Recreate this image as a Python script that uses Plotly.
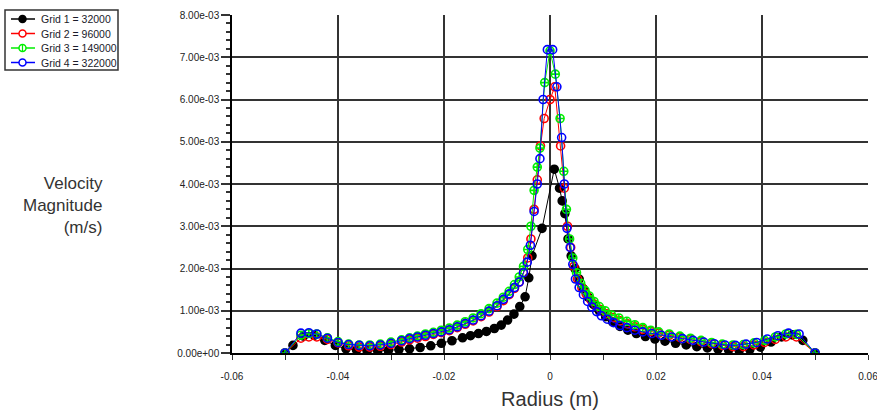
import plotly.graph_objects as go

# ---- data (velocity values in mm/s, converted to m/s below) ----
names = ["Grid 1 = 32000", "Grid 2 = 96000", "Grid 3 = 149000", "Grid 4 = 322000"]

r1 = [-0.0500, -0.0485, -0.0465, -0.0445, -0.0425, -0.0405, -0.0385, -0.0365, -0.0345, -0.0325,
      -0.0305, -0.0285, -0.0265, -0.0245, -0.0225, -0.0205, -0.0185, -0.0165, -0.0150, -0.0135,
      -0.0120, -0.0105, -0.0092, -0.0080, -0.0068, -0.0057, -0.0047, -0.0040, -0.0034, -0.0015,
      0.0008, 0.0018, 0.0023, 0.0028, 0.0034, 0.0040, 0.0047, 0.0055, 0.0063, 0.0072,
      0.0082, 0.0093, 0.0105, 0.0118, 0.0132, 0.0147, 0.0163, 0.0180, 0.0198, 0.0217,
      0.0237, 0.0257, 0.0277, 0.0297, 0.0317, 0.0337, 0.0357, 0.0377, 0.0397, 0.0417,
      0.0437, 0.0457, 0.0477, 0.0500]
v1 = [0.00, 0.18, 0.40, 0.42, 0.30, 0.18, 0.10, 0.07, 0.05, 0.05,
      0.06, 0.08, 0.10, 0.13, 0.17, 0.23, 0.29, 0.36, 0.41, 0.46,
      0.51, 0.58, 0.66, 0.78, 0.92, 1.10, 1.33, 1.78, 2.30, 2.95,
      4.35, 3.90, 3.60, 3.30, 2.70, 2.30, 2.00, 1.75, 1.52, 1.32,
      1.15, 1.00, 0.86, 0.74, 0.63, 0.54, 0.46, 0.39, 0.33, 0.28,
      0.23, 0.19, 0.15, 0.12, 0.09, 0.07, 0.06, 0.08, 0.14, 0.26,
      0.38, 0.43, 0.30, 0.00]

r2 = [-0.0500, -0.0470, -0.0455, -0.0440, -0.0420, -0.0400, -0.0380, -0.0360, -0.0340, -0.0320,
      -0.0300, -0.0280, -0.0265, -0.0250, -0.0235, -0.0220, -0.0205, -0.0190, -0.0175, -0.0160,
      -0.0145, -0.0130, -0.0115, -0.0100, -0.0088, -0.0077, -0.0067, -0.0058, -0.0050, -0.0042,
      -0.0036, -0.0030, -0.0024, -0.0018, -0.0011, 0.0000, 0.0009, 0.0020, 0.0027, 0.0033,
      0.0039, 0.0045, 0.0052, 0.0060, 0.0068, 0.0077, 0.0086, 0.0096, 0.0107, 0.0119,
      0.0132, 0.0146, 0.0160, 0.0175, 0.0190, 0.0205, 0.0225, 0.0245, 0.0265, 0.0285,
      0.0305, 0.0325, 0.0345, 0.0365, 0.0385, 0.0405, 0.0425, 0.0445, 0.0465, 0.0500]
v2 = [0.00, 0.35, 0.38, 0.38, 0.32, 0.24, 0.17, 0.14, 0.14, 0.16,
      0.20, 0.26, 0.31, 0.35, 0.39, 0.44, 0.48, 0.53, 0.60, 0.68,
      0.76, 0.86, 0.97, 1.10, 1.24, 1.38, 1.53, 1.68, 1.90, 2.25,
      2.70, 3.40, 4.10, 4.90, 5.55, 6.00, 6.30, 4.90, 3.90, 3.00,
      2.50, 2.05, 1.75, 1.55, 1.40, 1.26, 1.14, 1.03, 0.93, 0.84,
      0.76, 0.69, 0.62, 0.56, 0.51, 0.47, 0.42, 0.37, 0.32, 0.27,
      0.22, 0.18, 0.15, 0.15, 0.19, 0.25, 0.32, 0.38, 0.38, 0.00]

r3 = [-0.0500, -0.0470, -0.0455, -0.0440, -0.0420, -0.0400, -0.0380, -0.0360, -0.0340, -0.0320,
      -0.0300, -0.0280, -0.0265, -0.0250, -0.0235, -0.0220, -0.0205, -0.0190, -0.0175, -0.0160,
      -0.0145, -0.0130, -0.0115, -0.0100, -0.0088, -0.0077, -0.0067, -0.0058, -0.0050, -0.0042,
      -0.0036, -0.0030, -0.0024, -0.0019, -0.0010, 0.0000, 0.0010, 0.0019, 0.0026, 0.0031,
      0.0037, 0.0043, 0.0050, 0.0058, 0.0066, 0.0074, 0.0083, 0.0093, 0.0104, 0.0116,
      0.0130, 0.0145, 0.0160, 0.0175, 0.0190, 0.0205, 0.0225, 0.0245, 0.0265, 0.0285,
      0.0305, 0.0325, 0.0345, 0.0365, 0.0385, 0.0405, 0.0425, 0.0445, 0.0465, 0.0500]
v3 = [0.00, 0.42, 0.46, 0.45, 0.36, 0.27, 0.21, 0.19, 0.19, 0.21,
      0.26, 0.31, 0.36, 0.40, 0.45, 0.49, 0.54, 0.59, 0.66, 0.74,
      0.83, 0.93, 1.05, 1.18, 1.32, 1.46, 1.62, 1.80, 2.05, 2.45,
      3.00, 3.85, 4.40, 4.85, 6.40, 7.15, 6.60, 5.55, 4.30, 3.40,
      2.70, 2.25, 1.90, 1.65, 1.48, 1.35, 1.22, 1.10, 1.00, 0.90,
      0.83, 0.75, 0.67, 0.60, 0.54, 0.50, 0.45, 0.40, 0.35, 0.30,
      0.25, 0.21, 0.19, 0.20, 0.24, 0.30, 0.38, 0.45, 0.44, 0.00]

r4 = [-0.0500, -0.0470, -0.0455, -0.0440, -0.0420, -0.0400, -0.0380, -0.0360, -0.0340, -0.0320,
      -0.0300, -0.0280, -0.0265, -0.0250, -0.0235, -0.0220, -0.0205, -0.0190, -0.0175, -0.0160,
      -0.0145, -0.0130, -0.0115, -0.0100, -0.0088, -0.0077, -0.0067, -0.0058, -0.0050, -0.0043,
      -0.0037, -0.0030, -0.0024, -0.0019, -0.0013, -0.0005, 0.0005, 0.0013, 0.0022, 0.0027,
      0.0032, 0.0038, 0.0043, 0.0048, 0.0055, 0.0063, 0.0071, 0.0079, 0.0088, 0.0097,
      0.0108, 0.0120, 0.0132, 0.0145, 0.0160, 0.0175, 0.0192, 0.0210, 0.0230, 0.0250,
      0.0270, 0.0290, 0.0310, 0.0330, 0.0350, 0.0370, 0.0390, 0.0410, 0.0430, 0.0450,
      0.0470, 0.0500]
v4 = [0.00, 0.47, 0.48, 0.45, 0.35, 0.25, 0.20, 0.18, 0.17, 0.19,
      0.23, 0.29, 0.34, 0.38, 0.42, 0.46, 0.50, 0.55, 0.62, 0.70,
      0.78, 0.88, 0.99, 1.12, 1.27, 1.40, 1.55, 1.68, 1.90, 2.15,
      2.55, 3.35, 4.00, 4.60, 6.00, 7.18, 7.18, 6.30, 5.10, 4.00,
      2.95, 2.50, 2.10, 1.75, 1.55, 1.38, 1.22, 1.09, 0.98, 0.88,
      0.80, 0.72, 0.65, 0.60, 0.54, 0.50, 0.46, 0.42, 0.38, 0.34,
      0.30, 0.26, 0.22, 0.19, 0.18, 0.21, 0.25, 0.33, 0.41, 0.47,
      0.45, 0.00]

y_tickvals = [0, 0.001, 0.002, 0.003, 0.004, 0.005, 0.006, 0.007, 0.008]
y_ticktext = ["0.00e+00", "1.00e-03", "2.00e-03", "3.00e-03", "4.00e-03",
              "5.00e-03", "6.00e-03", "7.00e-03", "8.00e-03"]
x_tickvals = [-0.06, -0.04, -0.02, 0, 0.02, 0.04, 0.06]
x_ticktext = ["-0.06", "-0.04", "-0.02", "0", "0.02", "0.04", "0.06"]

colors = ["#000000", "#ff0000", "#00ee00", "#0000ff"]
symbols = ["circle", "circle-open", "circle-cross-open", "circle-open"]
series = [(r1, v1), (r2, v2), (r3, v3), (r4, v4)]

FONT = "Liberation Sans, Arial, sans-serif"
W, H = 877, 417
ML, MR, MT, MB = 232, 9, 15, 64
PW, PH = W - ML - MR, H - MT - MB


def px(xpix):
    return (xpix - ML) / PW


def py(ypix):
    return (H - MB - ypix) / PH


fig = go.Figure()
for (r, v), name, col, sym in zip(series, names, colors, symbols):
    fig.add_trace(go.Scatter(
        x=r, y=[val * 1e-3 for val in v], name=name, mode="lines+markers",
        line=dict(color=col, width=1),
        marker=dict(symbol=sym, size=8, color=col, line=dict(color=col, width=1.6)),
        showlegend=False,
    ))

# ---- hand-drawn legend box (compact, like the original) ----
shapes = [dict(type="rect", xref="paper", yref="paper",
               x0=px(5), x1=px(118), y0=py(70), y1=py(10),
               line=dict(color="#333", width=1.5), fillcolor="white", layer="above")]
annotations = []
row_y = [19, 33.5, 48, 62.5]
for name, col, sym, yy in zip(names, colors, symbols, row_y):
    shapes.append(dict(type="line", xref="paper", yref="paper",
                       x0=px(11), x1=px(35), y0=py(yy), y1=py(yy),
                       line=dict(color=col, width=1.5), layer="above"))
    shapes.append(dict(type="circle", xref="paper", yref="paper",
                       x0=px(19), x1=px(26), y0=py(yy + 3.5), y1=py(yy - 3.5),
                       line=dict(color=col, width=1.5),
                       fillcolor=col if sym == "circle" else "white", layer="above"))
    if sym == "circle-cross-open":
        shapes.append(dict(type="line", xref="paper", yref="paper",
                           x0=px(22.5), x1=px(22.5), y0=py(yy + 3.5), y1=py(yy - 3.5),
                           line=dict(color=col, width=1.2), layer="above"))
    annotations.append(dict(text=name, xref="paper", yref="paper", x=px(39), y=py(yy),
                            xanchor="left", yanchor="middle", showarrow=False,
                            font=dict(family=FONT, size=10.5, color="#1a1a2a")))

annotations.append(dict(text="Velocity<br>Magnitude<br>(m/s)", xref="paper", yref="paper",
                        x=px(105), y=py(205), xanchor="right", yanchor="middle", align="right",
                        showarrow=False, font=dict(family=FONT, size=17, color="#333")))

axis_font = dict(family=FONT, size=10, color="#222")
fig.update_layout(
    width=W, height=H,
    margin=dict(l=ML, r=MR, t=MT, b=MB, autoexpand=False),
    paper_bgcolor="white", plot_bgcolor="white",
    showlegend=False,
    xaxis=dict(range=[-0.06, 0.06], tickvals=x_tickvals, ticktext=x_ticktext,
               showgrid=True, gridcolor="#333", gridwidth=1.5,
               showline=True, linecolor="#000", linewidth=1.5,
               ticks="outside", ticklen=5, tickcolor="#333", tickwidth=1,
               ticklabelstandoff=8, ticklabeloverflow="allow",
               minor=dict(tickvals=[-0.05, -0.03, -0.01, 0.01, 0.03, 0.05],
                          ticks="outside", ticklen=5, tickcolor="#333", showgrid=False),
               zeroline=False, tickfont=axis_font, automargin=False,
               title=dict(text="Radius (m)", font=dict(family=FONT, size=20, color="#333"),
                          standoff=11)),
    yaxis=dict(range=[0, 0.008], tickvals=y_tickvals, ticktext=y_ticktext,
               showgrid=True, gridcolor="#333", gridwidth=1.5,
               showline=True, linecolor="#000", linewidth=1.5,
               ticks="outside", ticklen=9, tickcolor="#333", tickwidth=1.5,
               minor=dict(dtick=0.0002, ticks="outside", ticklen=4, tickcolor="#333", showgrid=False),
               zeroline=False, tickfont=axis_font, automargin=False),
    shapes=shapes,
    annotations=annotations,
)

fig.write_html("out.html")
